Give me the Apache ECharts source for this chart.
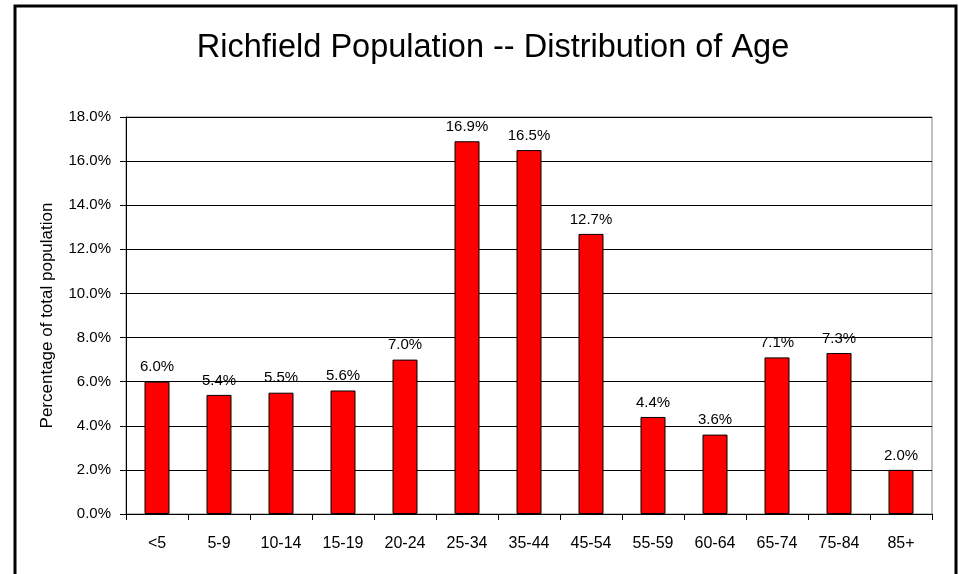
<!DOCTYPE html>
<html>
<head>
<meta charset="utf-8">
<script src="https://cdn.jsdelivr.net/npm/echarts@6/dist/echarts.min.js"></script>
<style>
  html, body { margin: 0; padding: 0; background: #fff; }
  #chart { width: 959px; height: 574px; }
</style>
</head>
<body>
<div id="chart"></div>
<script>
// age groups and their share of the total population (%)
var ageGroups = ['<5', '5-9', '10-14', '15-19', '20-24', '25-34', '35-44', '45-54', '55-59', '60-64', '65-74', '75-84', '85+']
var popShare = [6.0, 5.4, 5.5, 5.6, 7.0, 16.9, 16.5, 12.7, 4.4, 3.6, 7.1, 7.3, 2.0]

var font = "'Liberation Sans', Arial, sans-serif"

var chart = echarts.init(document.getElementById('chart'))
chart.setOption({
  animation: false,
  backgroundColor: '#fff',
  title: {
    text: 'Richfield Population -- Distribution of Age',
    left: 488,
    textAlign: 'center',
    top: 27,
    textStyle: { fontFamily: font, fontSize: 32.5, fontWeight: 'normal', color: '#000' }
  },
  // outer chart frame (bottom edge runs past the picture)
  graphic: [{
    type: 'rect',
    shape: { x: 15, y: 6, width: 941, height: 620 },
    style: { fill: 'none', stroke: '#000', lineWidth: 3 },
    z: 100
  }],
  grid: {
    left: 126, right: 27, top: 117, bottom: 60,
    show: true, borderColor: '#808080', borderWidth: 1
  },
  xAxis: {
    type: 'category',
    data: ageGroups,
    axisLine: { lineStyle: { color: '#000', width: 1 } },
    axisTick: { show: true, length: 6, lineStyle: { color: '#000' } },
    axisLabel: { margin: 22, fontFamily: font, fontSize: 16, color: '#000' }
  },
  yAxis: {
    type: 'value',
    min: 0,
    max: 18,
    interval: 2,
    name: 'Percentage of total population',
    nameLocation: 'middle',
    nameGap: 70,
    nameTextStyle: { fontFamily: font, fontSize: 17, color: '#000' },
    axisLine: { show: true, lineStyle: { color: '#000', width: 1 } },
    axisTick: { show: true, length: 6, lineStyle: { color: '#000' } },
    axisLabel: {
      margin: 15, fontFamily: font, fontSize: 15, color: '#000',
      formatter: function (v) { return v.toFixed(1) + '%' }
    },
    splitLine: { lineStyle: { color: '#000', width: 1 } }
  },
  series: [{
    type: 'bar',
    data: popShare,
    barWidth: 25,
    itemStyle: { color: '#ff0000', borderColor: '#000', borderWidth: 1 },
    label: {
      show: true,
      position: 'top',
      distance: 7,
      fontFamily: font,
      fontSize: 15,
      color: '#000',
      formatter: function (p) { return p.value.toFixed(1) + '%' }
    }
  }]
})
</script>
</body>
</html>
